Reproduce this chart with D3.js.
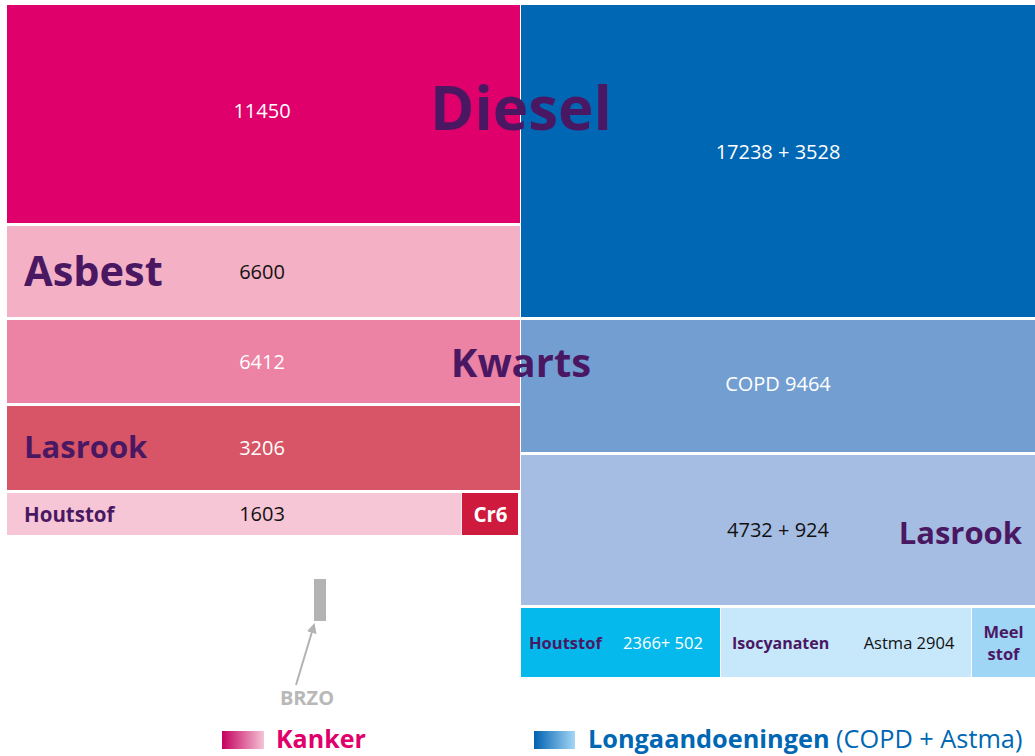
<!DOCTYPE html>
<html>
<head>
<meta charset="utf-8">
<script src="https://cdn.jsdelivr.net/npm/d3@7"></script>
<style>
  body { margin: 0; background: #fff; }
  svg { display: block; font-family: "Open Sans", "Noto Sans", sans-serif; }
</style>
</head>
<body>
<svg width="1035" height="756"></svg>
<script>
// kolommen van de figuur
var kolommen = ["Kanker", "Longaandoeningen"];

// Kanker (linker kolom)
var kankerBronnen = ["Diesel", "Asbest", "Kwarts", "Lasrook", "Houtstof"];
var kankerWaarden = ["11450", "6600", "6412", "3206", "1603"];
var kankerGewicht = [22.1, 9.4, 8.6, 8.7, 4.5];   // relatieve vlakgrootte

// onderste rij kanker: houtstof + Cr6
var kankerRijBronnen = ["Houtstof", "Cr6"];
var kankerRijGewicht = [45.4, 5.7];

// Longaandoeningen (rechter kolom)
var longBronnen = ["Diesel", "Kwarts", "Lasrook", "Overig"];
var longWaarden = ["17238 + 3528", "COPD 9464", "4732 + 924", ""];
var longGewicht = [31.5, 13.5, 15.3, 7.2];

// onderste rij longaandoeningen
var longRijBronnen = ["Houtstof", "Isocyanaten", "Meel stof"];
var longRijWaarden = ["2366+ 502", "Astma 2904", ""];
var longRijGewicht = [20, 25.1, 6.4];

// BRZO (klein balkje)
var brzoGewicht = 4.2;

var paars = "#4a1863";
var kankerKleur = ["#e0006b", "#f4b0c5", "#ec82a4", "#d75566", "#f6c6d6"];
var kankerRijKleur = ["#f6c6d6", "#cd1a3d"];
var kankerTekst = ["#fff", "#111", "#fff", "#fff", "#111"];
var longKleur = ["#0067b4", "#739ed2", "#a6bde3", "none"];
var longTekst = ["#fff", "#fff", "#111", "#fff"];
var longRijKleur = ["#05b9ec", "#c7e7fa", "#a0d6f5"];
var longRijTekst = ["#fff", "#111", "#111"];

var svg = d3.select("svg");
var gap = 3;

var x = d3.scaleBand().domain(kolommen).range([7, 1035]);

function stapel(gewicht) {
  var eind = d3.cumsum(gewicht);
  return gewicht.map(function (g, i) { return { c0: eind[i] - g, c1: eind[i] }; });
}

// ---- linker kolom ----
var yK = d3.scaleLinear().domain([0, d3.sum(kankerGewicht)]).range([5, 538]);
var kStapel = stapel(kankerGewicht);
var kx0 = x("Kanker"), kx1 = x("Kanker") + x.bandwidth() - 1;

var kRows = kankerBronnen.map(function (n, i) {
  return { naam: n, waarde: kankerWaarden[i], y0: yK(kStapel[i].c0), y1: yK(kStapel[i].c1) - gap, i: i };
});

svg.selectAll(".kanker")
  .data(kRows.slice(0, 4))
  .enter().append("rect")
    .classed("kanker", true)
    .attr("x", kx0)
    .attr("y", d => d.y0)
    .attr("width", kx1 - kx0)
    .attr("height", d => d.y1 - d.y0)
    .attr("fill", d => kankerKleur[d.i]);

// onderste rij: houtstof + Cr6
var hRow = kRows[4];
var xH = d3.scaleLinear().domain([0, d3.sum(kankerRijGewicht)]).range([kx0, kx1 - 1]);
var hStapel = stapel(kankerRijGewicht);
svg.selectAll(".kankerRij")
  .data(kankerRijBronnen)
  .enter().append("rect")
    .classed("kankerRij", true)
    .attr("x", (d, i) => xH(hStapel[i].c0))
    .attr("y", hRow.y0)
    .attr("width", (d, i) => xH(hStapel[i].c1) - xH(hStapel[i].c0) - 1)
    .attr("height", hRow.y1 - hRow.y0)
    .attr("fill", (d, i) => kankerRijKleur[i]);

// ---- rechter kolom ----
var yL = d3.scaleLinear().domain([0, d3.sum(longGewicht)]).range([5, 680]);
var lStapel = stapel(longGewicht);
var lx0 = x("Longaandoeningen"), lx1 = x("Longaandoeningen") + x.bandwidth();

var lRows = longBronnen.map(function (n, i) {
  return { naam: n, waarde: longWaarden[i], y0: yL(lStapel[i].c0), y1: yL(lStapel[i].c1) - gap, i: i };
});

svg.selectAll(".long")
  .data(lRows.slice(0, 3))
  .enter().append("rect")
    .classed("long", true)
    .attr("x", lx0)
    .attr("y", d => d.y0)
    .attr("width", lx1 - lx0)
    .attr("height", d => d.y1 - d.y0)
    .attr("fill", d => longKleur[d.i]);

var oRow = lRows[3];
var xO = d3.scaleLinear().domain([0, d3.sum(longRijGewicht)]).range([lx0, lx1 + 1]);
var oStapel = stapel(longRijGewicht);
var oCells = longRijBronnen.map(function (n, i) {
  return { naam: n, waarde: longRijWaarden[i], x0: xO(oStapel[i].c0), x1: xO(oStapel[i].c1) - 1, i: i };
});
svg.selectAll(".longRij")
  .data(oCells)
  .enter().append("rect")
    .classed("longRij", true)
    .attr("x", d => d.x0)
    .attr("y", oRow.y0)
    .attr("width", d => d.x1 - d.x0)
    .attr("height", oRow.y1 - oRow.y0)
    .attr("fill", d => longRijKleur[d.i]);

// ---- waarden ----
var kMid = kx0 + x.bandwidth() / 2 - 2;
var lMid = lx0 + x.bandwidth() / 2;

svg.selectAll(".kWaarde")
  .data(kRows)
  .enter().append("text")
    .attr("x", kMid)
    .attr("y", d => (d.y0 + d.y1) / 2 + 7 - (d.i === 0 ? 3 : 0))
    .attr("text-anchor", "middle")
    .attr("font-size", 20)
    .attr("fill", d => kankerTekst[d.i])
    .text(d => d.waarde);

svg.selectAll(".lWaarde")
  .data(lRows.slice(0, 3))
  .enter().append("text")
    .attr("x", lMid)
    .attr("y", d => (d.y0 + d.y1) / 2 + 7 - (d.i === 0 ? 9 : d.i === 1 ? 2 : 0))
    .attr("text-anchor", "middle")
    .attr("font-size", 20)
    .attr("fill", d => longTekst[d.i])
    .text(d => d.waarde);

// ---- namen ----
function naam(tekst, xp, yp, size, anchor, kleur) {
  svg.append("text")
    .attr("x", xp).attr("y", yp)
    .attr("text-anchor", anchor || "start")
    .attr("font-size", size)
    .attr("font-weight", 700)
    .attr("fill", kleur || paars)
    .text(tekst);
}

function midden(r) { return (r.y0 + r.y1) / 2; }

naam("Asbest", kx0 + 17, midden(kRows[1]) + 14, 41.5);
naam("Lasrook", kx0 + 17, midden(kRows[3]) + 10, 31);
naam("Houtstof", kx0 + 17, midden(hRow) + 8, 20.5);
naam("Cr6", (xH(hStapel[1].c0) + xH(hStapel[1].c1)) / 2, midden(hRow) + 8, 20.5, "middle", "#fff");

naam("Lasrook", lx1 - 13, midden(lRows[2]) + 14, 31, "end");

// onderste rij rechts
var oMid = midden(oRow);
naam("Houtstof", oCells[0].x0 + 8, oMid + 6, 16.5);
naam("Isocyanaten", oCells[1].x0 + 11, oMid + 6, 16);
svg.append("text")
  .attr("x", oCells[0].x1 - 57).attr("y", oMid + 6)
  .attr("text-anchor", "middle").attr("font-size", 16.5).attr("fill", "#fff")
  .text(oCells[0].waarde);
svg.append("text")
  .attr("x", oCells[1].x1 - 62).attr("y", oMid + 6)
  .attr("text-anchor", "middle").attr("font-size", 16.5).attr("fill", "#111")
  .text(oCells[1].waarde);
var meel = svg.append("text")
  .attr("text-anchor", "middle").attr("font-size", 16.5)
  .attr("font-weight", 700).attr("fill", paars);
oCells[2].naam.split(" ").forEach(function (w, i) {
  meel.append("tspan")
    .attr("x", (oCells[2].x0 + oCells[2].x1) / 2)
    .attr("y", oMid - 5 + i * 22)
    .text(w);
});

// grote overlappende labels op de grens
naam("Diesel", lx0, midden(kRows[0]) + 16, 60, "middle");
naam("Kwarts", lx0, midden(kRows[2]) + 15, 40, "middle");

// ---- BRZO ----
var brzoTop = hRow.y1 + 44;
var brzoH = yK(brzoGewicht) - yK(0);
svg.append("rect")
  .attr("x", kMid + 52).attr("y", brzoTop)
  .attr("width", 12).attr("height", brzoH)
  .attr("fill", "#b3b3b3");

svg.append("defs").append("marker")
    .attr("id", "pijl")
    .attr("viewBox", "0 0 10 10")
    .attr("refX", 8).attr("refY", 5)
    .attr("markerWidth", 5).attr("markerHeight", 5)
    .attr("orient", "auto")
  .append("path")
    .attr("d", "M0,0L10,5L0,10z")
    .attr("fill", "#b3b3b3");

svg.append("line")
  .attr("x1", kMid + 34).attr("y1", brzoTop + brzoH + 64)
  .attr("x2", kMid + 52).attr("y2", brzoTop + brzoH + 4)
  .attr("stroke", "#b3b3b3").attr("stroke-width", 2)
  .attr("marker-end", "url(#pijl)");

naam("BRZO", kMid + 45, brzoTop + brzoH + 84, 20, "middle", "#b8b8b8");

// ---- legenda ----
var defs = svg.select("defs");
function verloop(id, van, naar) {
  var g = defs.append("linearGradient").attr("id", id);
  g.append("stop").attr("offset", "0%").attr("stop-color", van);
  g.append("stop").attr("offset", "100%").attr("stop-color", naar);
}
verloop("gradK", "#c4005e", "#f5c3d6");
verloop("gradL", "#0062b0", "#a3d6f5");

svg.append("rect").attr("x", 222).attr("y", 731).attr("width", 42).attr("height", 18).attr("fill", "url(#gradK)");
naam("Kanker", 276, 748, 25, "start", "#e0006b");

svg.append("rect").attr("x", 534).attr("y", 731).attr("width", 41).attr("height", 18).attr("fill", "url(#gradL)");
var leg = svg.append("text").attr("x", 588).attr("y", 748).attr("font-size", 25.3).attr("fill", "#0067b4");
leg.append("tspan").attr("font-weight", 700).text("Longaandoeningen");
leg.append("tspan").text(" (COPD + Astma)");
</script>
</body>
</html>
